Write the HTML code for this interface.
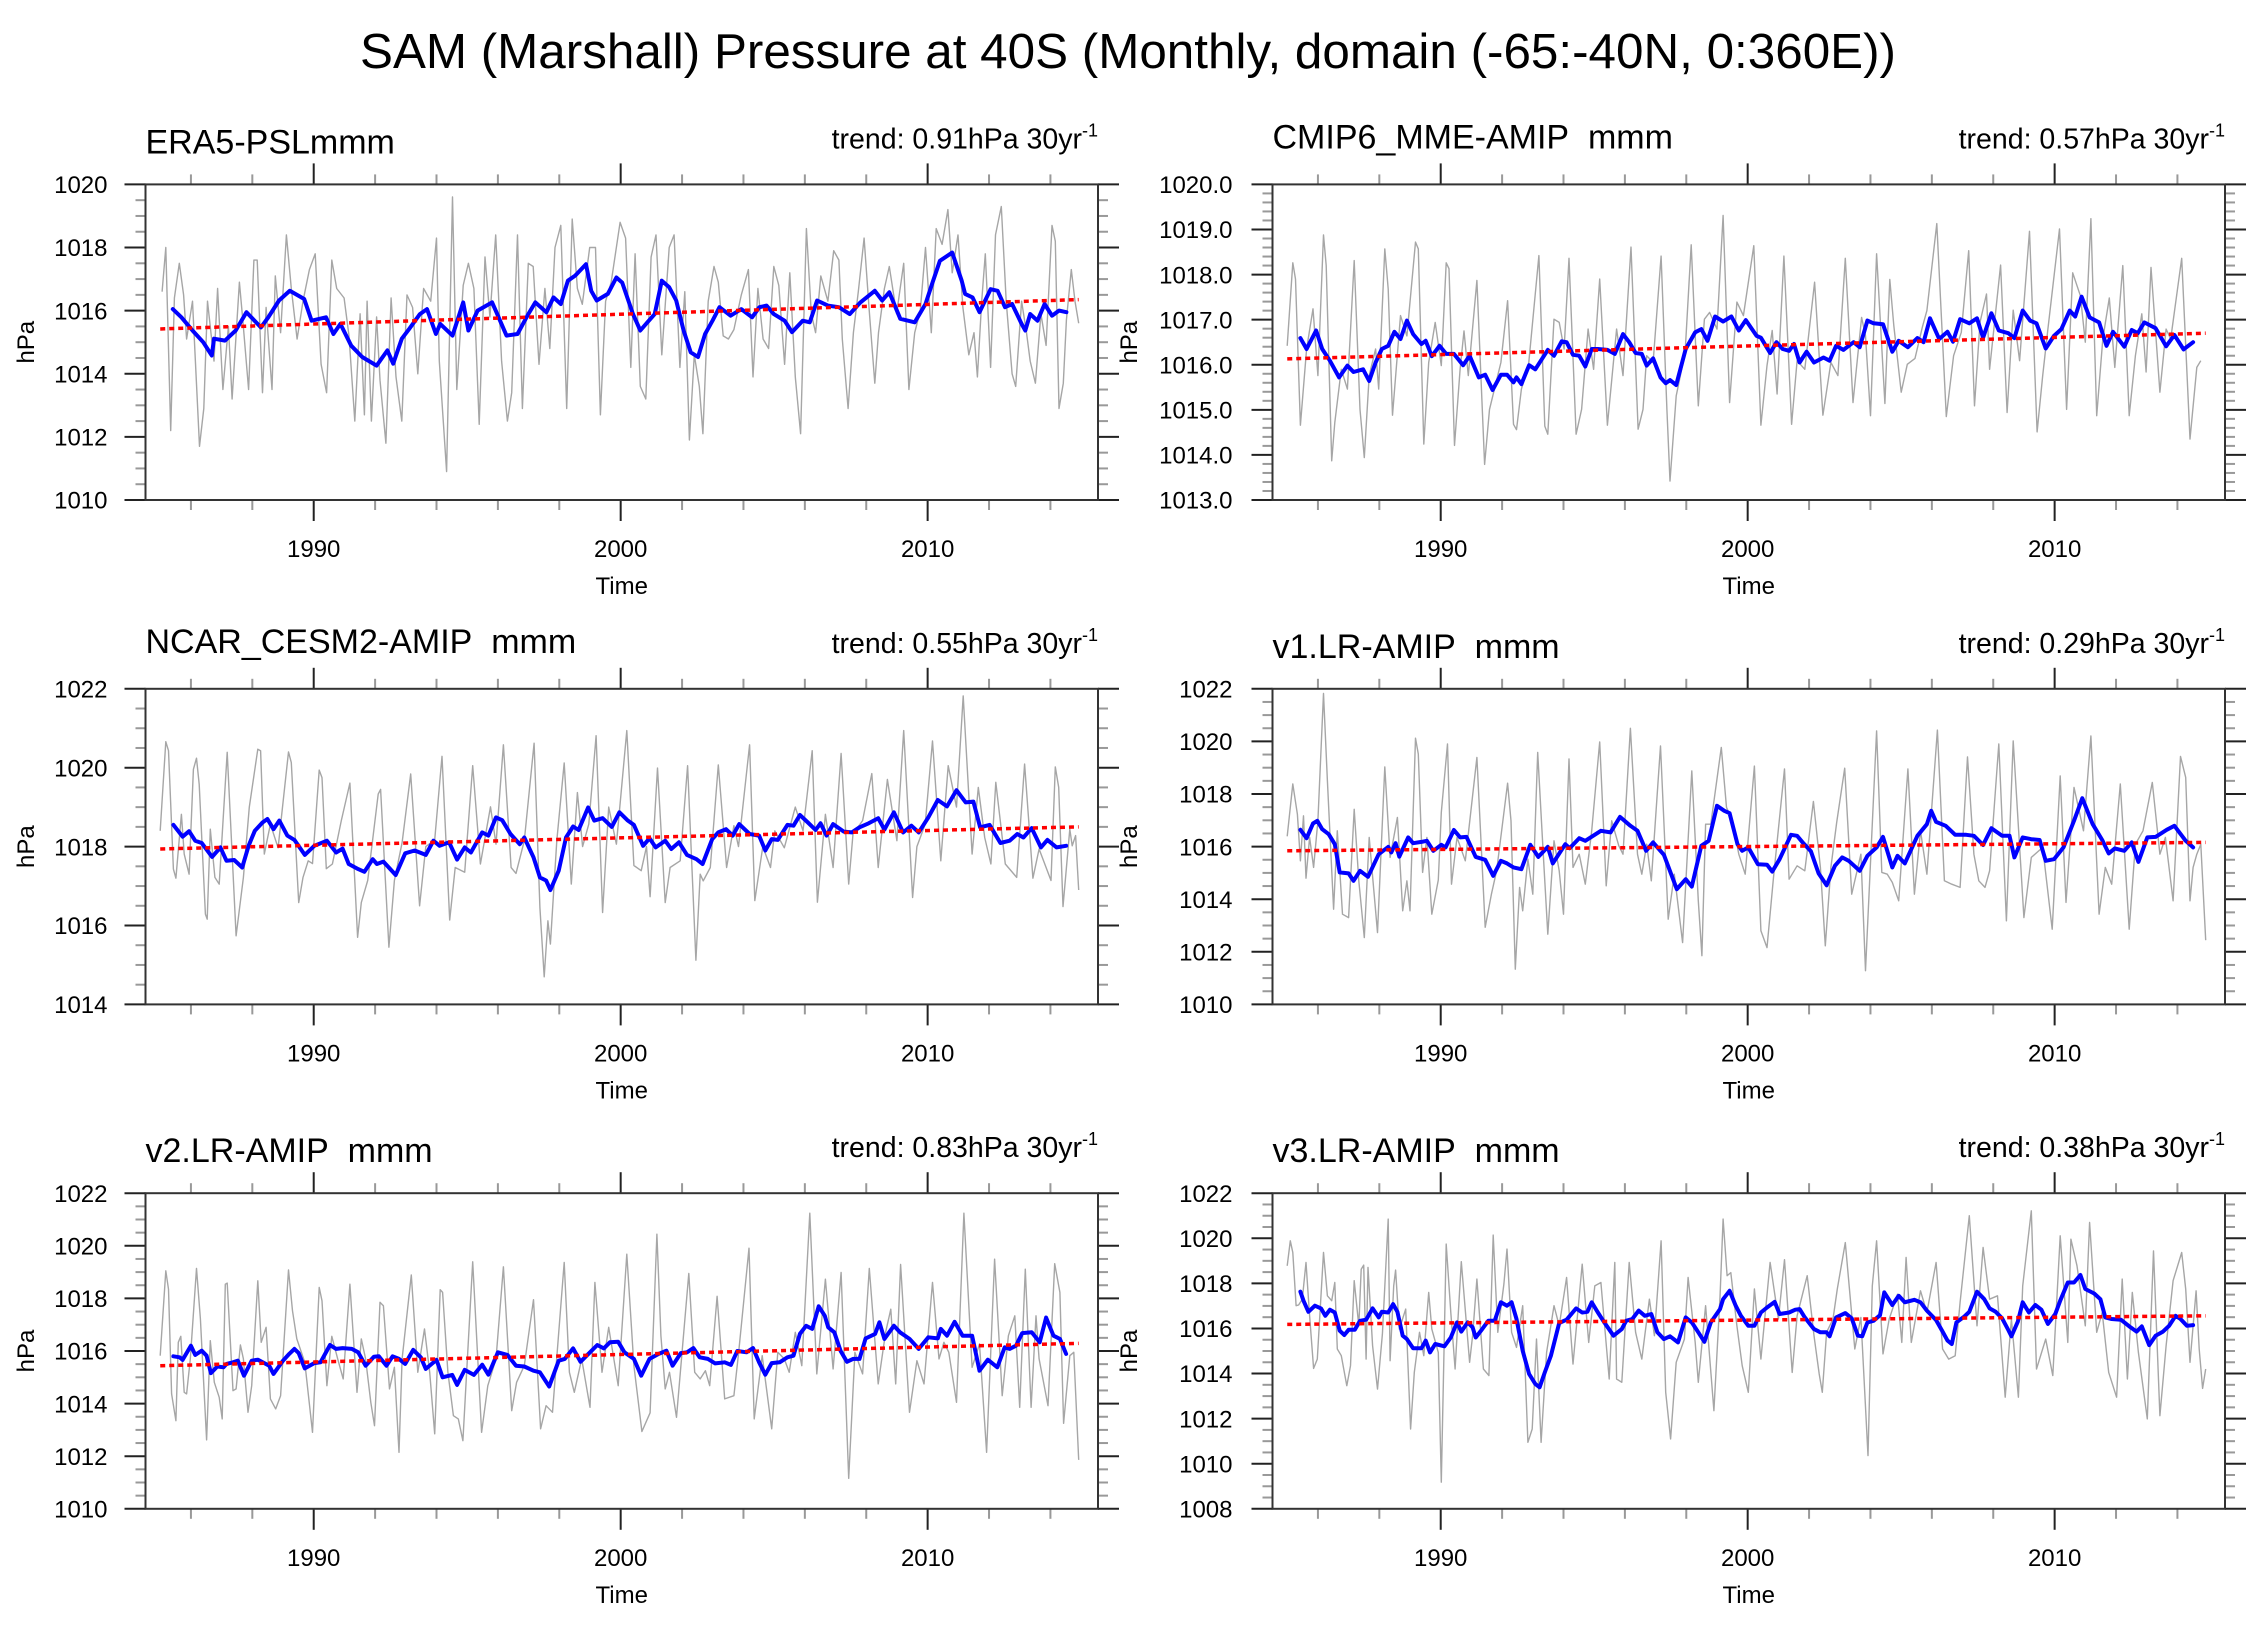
<!DOCTYPE html>
<html><head><meta charset="utf-8"><title>SAM (Marshall) Pressure at 40S</title>
<style>html,body{margin:0;padding:0;background:#fff}svg{display:block}text{font-family:"Liberation Sans",Arial,sans-serif;fill:#000}</style>
</head><body>
<svg id="chart" xmlns="http://www.w3.org/2000/svg" width="2259" height="1637" viewBox="0 0 2259 1637">
<rect x="0" y="0" width="2259" height="1637" fill="#fff"/>
<text x="1128" y="68" font-size="49" text-anchor="middle" textLength="1536" lengthAdjust="spacingAndGlyphs">SAM (Marshall) Pressure at 40S (Monthly, domain (-65:-40N, 0:360E))</text>
</svg>
<script>
// ---- data (time in decimal years, value in hPa) ----
const panelTitles = ['ERA5-PSLmmm','CMIP6_MME-AMIP\u00a0\u00a0mmm','NCAR_CESM2-AMIP\u00a0\u00a0mmm','v1.LR-AMIP\u00a0\u00a0mmm','v2.LR-AMIP\u00a0\u00a0mmm','v3.LR-AMIP\u00a0\u00a0mmm'];
const trendLabels = ['0.91','0.57','0.55','0.29','0.83','0.38'];
const yMins = [1010,1013,1014,1010,1010,1008];
const yMaxs = [1020,1020,1022,1022,1022,1022];
const yMajorSteps = [2,1,2,2,2,2];
const yMinorSteps = [0.5,0.2,0.5,0.5,0.5,0.5];
const yDecimals = [0,1,0,0,0,0];
const xTickYears = [1990,2000,2010];
const trendStartT = 1985.0;
const trendEndT = 2014.92;
const trendStartV = [1015.42,1016.13,1017.94,1015.84,1015.44,1016.18];
const trendEndV = [1016.35,1016.70,1018.50,1016.16,1016.29,1016.56];

const era5Blue = [[1985.41,1016.05],[1985.69,1015.79],[1986.05,1015.37],[1986.40,1015.0],[1986.68,1014.58],[1986.75,1015.11],[1987.11,1015.05],[1987.46,1015.37],[1987.81,1015.95],[1988.28,1015.47],[1988.52,1015.79],[1988.87,1016.32],[1989.22,1016.63],[1989.69,1016.37],[1989.93,1015.68],[1990.40,1015.79],[1990.64,1015.26],[1990.87,1015.58],[1991.22,1014.89],[1991.58,1014.53],[1992.05,1014.26],[1992.40,1014.74],[1992.59,1014.32],[1992.87,1015.11],[1993.11,1015.42],[1993.46,1015.89],[1993.69,1016.05],[1993.98,1015.26],[1994.12,1015.58],[1994.52,1015.21],[1994.87,1016.26],[1995.04,1015.37],[1995.34,1016.0],[1995.81,1016.26],[1995.93,1016.0],[1996.28,1015.21],[1996.64,1015.26],[1996.99,1015.89],[1997.22,1016.26],[1997.58,1015.95],[1997.81,1016.42],[1998.05,1016.21],[1998.28,1016.95],[1998.52,1017.11],[1998.87,1017.47],[1999.04,1016.63],[1999.22,1016.32],[1999.58,1016.53],[1999.86,1017.05],[2000.05,1016.89],[2000.40,1015.89],[2000.64,1015.37],[2000.87,1015.63],[2001.11,1015.89],[2001.34,1016.95],[2001.58,1016.74],[2001.81,1016.32],[2002.05,1015.37],[2002.28,1014.68],[2002.52,1014.53],[2002.75,1015.26],[2002.99,1015.68],[2003.22,1016.11],[2003.58,1015.84],[2003.93,1016.05],[2004.28,1015.79],[2004.52,1016.11],[2004.75,1016.16],[2004.99,1015.89],[2005.34,1015.68],[2005.58,1015.32],[2005.93,1015.68],[2006.16,1015.63],[2006.40,1016.32],[2006.75,1016.16],[2007.11,1016.11],[2007.46,1015.89],[2007.81,1016.26],[2008.28,1016.63],[2008.52,1016.32],[2008.75,1016.58],[2009.11,1015.74],[2009.58,1015.63],[2009.93,1016.21],[2010.16,1016.89],[2010.40,1017.58],[2010.80,1017.84],[2011.11,1016.95],[2011.22,1016.53],[2011.46,1016.42],[2011.69,1015.95],[2012.05,1016.68],[2012.28,1016.63],[2012.52,1016.11],[2012.75,1016.21],[2013.06,1015.58],[2013.18,1015.37],[2013.34,1015.89],[2013.58,1015.68],[2013.81,1016.21],[2014.05,1015.84],[2014.28,1016.0],[2014.52,1015.95]];
const era5Gray = [[1985.06,1016.6],[1985.18,1018.0],[1985.34,1012.2],[1985.46,1016.4],[1985.62,1017.5],[1985.76,1016.5],[1985.86,1015.1],[1986.05,1016.3],[1986.28,1011.7],[1986.42,1012.9],[1986.54,1016.3],[1986.75,1014.4],[1986.87,1016.7],[1987.04,1013.5],[1987.22,1015.5],[1987.34,1013.2],[1987.58,1016.9],[1987.69,1015.7],[1987.88,1013.5],[1988.05,1017.6],[1988.16,1017.6],[1988.33,1013.4],[1988.45,1016.1],[1988.64,1013.5],[1988.75,1017.1],[1988.92,1015.3],[1989.11,1018.4],[1989.27,1016.7],[1989.46,1015.1],[1989.65,1016.3],[1989.86,1017.3],[1990.05,1017.8],[1990.24,1014.3],[1990.42,1013.4],[1990.59,1017.6],[1990.75,1016.7],[1990.99,1016.4],[1991.15,1015.2],[1991.34,1012.5],[1991.51,1015.9],[1991.65,1012.7],[1991.74,1016.3],[1991.88,1012.5],[1992.05,1015.8],[1992.16,1013.8],[1992.35,1011.8],[1992.52,1016.4],[1992.68,1013.9],[1992.87,1012.5],[1993.04,1016.5],[1993.22,1016.1],[1993.39,1014.0],[1993.58,1016.7],[1993.81,1016.3],[1994.0,1018.3],[1994.09,1014.4],[1994.33,1010.9],[1994.52,1019.6],[1994.66,1013.5],[1994.87,1016.8],[1995.04,1017.5],[1995.22,1016.7],[1995.39,1012.4],[1995.58,1017.7],[1995.74,1015.8],[1995.93,1018.4],[1996.12,1014.4],[1996.31,1012.5],[1996.45,1013.4],[1996.64,1018.4],[1996.80,1012.9],[1996.99,1017.5],[1997.15,1017.4],[1997.34,1014.3],[1997.53,1016.7],[1997.69,1014.8],[1997.86,1018.0],[1998.05,1018.7],[1998.24,1012.9],[1998.42,1018.9],[1998.59,1016.7],[1998.75,1016.2],[1998.99,1018.0],[1999.18,1018.0],[1999.34,1012.7],[1999.51,1016.3],[1999.69,1016.9],[1999.98,1018.8],[2000.16,1018.3],[2000.33,1014.2],[2000.47,1017.8],[2000.64,1013.6],[2000.82,1013.2],[2000.99,1017.7],[2001.15,1018.4],[2001.34,1014.6],[2001.58,1018.0],[2001.74,1018.4],[2001.93,1014.2],[2002.09,1016.6],[2002.24,1011.9],[2002.40,1014.6],[2002.56,1013.6],[2002.68,1012.1],[2002.85,1016.3],[2003.04,1017.4],[2003.18,1016.9],[2003.34,1015.2],[2003.51,1015.1],[2003.69,1015.4],[2003.93,1016.5],[2004.16,1017.3],[2004.31,1013.9],[2004.47,1016.7],[2004.64,1015.1],[2004.82,1014.8],[2004.99,1017.4],[2005.15,1016.8],[2005.34,1014.3],[2005.51,1017.2],[2005.69,1013.9],[2005.86,1012.1],[2006.05,1018.6],[2006.21,1015.9],[2006.35,1015.3],[2006.52,1017.1],[2006.75,1016.3],[2006.94,1017.9],[2007.11,1017.6],[2007.22,1015.1],[2007.41,1012.9],[2007.58,1015.3],[2007.74,1016.6],[2007.93,1018.3],[2008.09,1016.1],[2008.28,1013.7],[2008.40,1015.3],[2008.59,1016.7],[2008.75,1017.4],[2008.99,1015.9],[2009.22,1017.5],[2009.39,1013.5],[2009.58,1015.3],[2009.76,1016.0],[2009.93,1018.0],[2010.12,1015.3],[2010.28,1018.6],[2010.47,1018.1],[2010.66,1019.2],[2010.80,1017.2],[2010.99,1018.4],[2011.15,1016.1],[2011.34,1014.6],[2011.51,1015.3],[2011.62,1013.9],[2011.76,1016.3],[2011.88,1017.8],[2012.05,1014.2],[2012.21,1018.4],[2012.40,1019.3],[2012.56,1016.3],[2012.75,1014.0],[2012.87,1013.6],[2013.06,1016.3],[2013.22,1015.3],[2013.34,1014.4],[2013.51,1013.7],[2013.69,1015.9],[2013.86,1014.9],[2014.05,1018.7],[2014.16,1018.2],[2014.28,1012.9],[2014.42,1013.7],[2014.52,1015.7],[2014.68,1017.3],[2014.80,1016.3],[2014.92,1015.6]];

const cmip6Blue = [[1985.43,1016.59],[1985.63,1016.35],[1985.94,1016.76],[1986.14,1016.35],[1986.39,1016.09],[1986.69,1015.72],[1986.96,1015.98],[1987.16,1015.84],[1987.47,1015.9],[1987.67,1015.64],[1987.88,1016.05],[1988.08,1016.35],[1988.29,1016.42],[1988.49,1016.73],[1988.69,1016.57],[1988.90,1016.98],[1989.10,1016.68],[1989.37,1016.46],[1989.51,1016.53],[1989.71,1016.19],[1989.96,1016.42],[1990.18,1016.24],[1990.43,1016.24],[1990.73,1015.99],[1990.94,1016.2],[1991.24,1015.72],[1991.45,1015.78],[1991.69,1015.44],[1991.96,1015.78],[1992.16,1015.78],[1992.37,1015.61],[1992.47,1015.72],[1992.63,1015.57],[1992.88,1015.99],[1993.08,1015.9],[1993.49,1016.33],[1993.69,1016.2],[1993.94,1016.52],[1994.10,1016.5],[1994.31,1016.22],[1994.51,1016.2],[1994.71,1015.96],[1994.92,1016.35],[1995.12,1016.35],[1995.43,1016.33],[1995.67,1016.24],[1995.94,1016.68],[1996.14,1016.5],[1996.35,1016.26],[1996.55,1016.24],[1996.71,1015.98],[1996.92,1016.14],[1997.16,1015.72],[1997.33,1015.59],[1997.47,1015.66],[1997.67,1015.55],[1997.98,1016.35],[1998.29,1016.72],[1998.49,1016.79],[1998.69,1016.53],[1998.94,1017.07],[1999.20,1016.96],[1999.47,1017.07],[1999.71,1016.76],[1999.94,1016.99],[2000.29,1016.64],[2000.43,1016.6],[2000.73,1016.26],[2000.94,1016.5],[2001.14,1016.35],[2001.35,1016.31],[2001.51,1016.46],[2001.69,1016.05],[2001.92,1016.29],[2002.16,1016.05],[2002.47,1016.16],[2002.67,1016.09],[2002.88,1016.42],[2003.12,1016.33],[2003.45,1016.5],[2003.65,1016.39],[2003.90,1016.98],[2004.10,1016.92],[2004.41,1016.9],[2004.71,1016.29],[2004.92,1016.53],[2005.22,1016.39],[2005.53,1016.59],[2005.73,1016.5],[2005.94,1017.03],[2006.24,1016.57],[2006.51,1016.73],[2006.69,1016.51],[2006.92,1017.01],[2007.22,1016.92],[2007.47,1017.03],[2007.67,1016.6],[2007.94,1017.14],[2008.18,1016.76],[2008.49,1016.7],[2008.69,1016.59],[2008.96,1017.2],[2009.20,1016.98],[2009.41,1016.92],[2009.71,1016.36],[2009.98,1016.64],[2010.22,1016.79],[2010.49,1017.2],[2010.67,1017.07],[2010.88,1017.51],[2011.14,1017.05],[2011.45,1016.94],[2011.69,1016.42],[2011.90,1016.73],[2012.27,1016.4],[2012.51,1016.77],[2012.71,1016.7],[2012.92,1016.94],[2013.29,1016.81],[2013.63,1016.41],[2013.90,1016.66],[2014.20,1016.34],[2014.51,1016.5]];
const cmip6Gray = [[1985.0,1016.42],[1985.18,1018.26],[1985.27,1017.9],[1985.43,1014.66],[1985.63,1016.35],[1985.84,1017.24],[1986.0,1015.76],[1986.18,1018.88],[1986.27,1018.2],[1986.45,1013.87],[1986.55,1014.72],[1986.76,1015.9],[1986.96,1015.46],[1987.18,1018.31],[1987.37,1015.01],[1987.51,1013.94],[1987.67,1015.76],[1987.88,1016.35],[1987.98,1015.46],[1988.18,1018.57],[1988.29,1017.68],[1988.43,1014.88],[1988.69,1017.09],[1988.90,1016.64],[1989.18,1018.72],[1989.27,1018.57],[1989.45,1014.24],[1989.61,1016.05],[1989.82,1016.94],[1990.02,1015.98],[1990.18,1018.26],[1990.27,1018.13],[1990.45,1014.21],[1990.63,1015.9],[1990.76,1016.75],[1990.9,1015.76],[1991.18,1017.87],[1991.43,1013.79],[1991.59,1015.01],[1991.96,1016.05],[1992.18,1017.42],[1992.37,1014.68],[1992.47,1014.56],[1992.63,1015.46],[1992.86,1015.98],[1993.2,1018.42],[1993.39,1014.64],[1993.49,1014.46],[1993.69,1017.01],[1993.86,1016.94],[1994.02,1016.35],[1994.18,1018.36],[1994.41,1014.46],[1994.59,1015.01],[1994.8,1016.79],[1994.98,1015.9],[1995.18,1017.9],[1995.43,1014.66],[1995.73,1016.79],[1995.94,1015.76],[1996.2,1018.61],[1996.43,1014.57],[1996.59,1015.01],[1996.71,1016.2],[1996.92,1016.05],[1997.18,1018.41],[1997.37,1015.01],[1997.47,1013.42],[1997.67,1015.31],[1997.96,1016.27],[1998.16,1018.66],[1998.39,1015.09],[1998.59,1017.01],[1998.76,1017.16],[1999.0,1016.79],[1999.2,1019.31],[1999.41,1015.16],[1999.65,1017.39],[1999.86,1017.09],[2000.2,1018.64],[2000.43,1014.66],[2000.63,1015.98],[2000.8,1016.76],[2000.96,1015.35],[2001.18,1018.41],[2001.43,1014.68],[2001.61,1016.09],[2001.86,1015.9],[2002.18,1017.83],[2002.45,1014.88],[2002.71,1016.05],[2002.94,1015.76],[2003.18,1018.36],[2003.43,1015.16],[2003.71,1017.05],[2003.84,1016.64],[2004.0,1014.87],[2004.2,1018.46],[2004.47,1015.14],[2004.63,1017.89],[2004.76,1016.87],[2005.0,1015.39],[2005.2,1016.01],[2005.45,1016.14],[2005.69,1016.83],[2005.84,1017.2],[2006.16,1019.13],[2006.47,1014.85],[2006.71,1016.2],[2006.96,1016.72],[2007.2,1018.53],[2007.39,1015.09],[2007.57,1016.94],[2007.78,1017.57],[2007.88,1015.9],[2008.24,1018.21],[2008.45,1014.94],[2008.65,1017.21],[2008.86,1016.09],[2009.18,1018.96],[2009.43,1014.51],[2009.61,1015.76],[2009.78,1016.79],[2010.16,1019.01],[2010.39,1015.01],[2010.59,1018.04],[2010.84,1017.53],[2011.0,1016.5],[2011.18,1019.24],[2011.37,1014.87],[2011.57,1016.57],[2011.78,1017.48],[2011.96,1015.94],[2012.22,1018.2],[2012.43,1014.87],[2012.63,1016.2],[2012.84,1017.13],[2012.98,1015.84],[2013.14,1018.16],[2013.43,1015.39],[2013.63,1016.79],[2013.78,1016.57],[2014.14,1018.36],[2014.41,1014.35],[2014.63,1015.94],[2014.76,1016.09]];

const cesm2Blue = [[1985.43,1018.55],[1985.73,1018.25],[1985.94,1018.39],[1986.14,1018.15],[1986.35,1018.09],[1986.69,1017.74],[1986.96,1017.98],[1987.16,1017.64],[1987.41,1017.66],[1987.67,1017.47],[1987.88,1018.02],[1988.08,1018.4],[1988.33,1018.61],[1988.49,1018.7],[1988.69,1018.44],[1988.88,1018.66],[1989.14,1018.28],[1989.37,1018.17],[1989.71,1017.79],[1990.02,1018.02],[1990.43,1018.15],[1990.73,1017.85],[1990.94,1017.95],[1991.14,1017.56],[1991.45,1017.43],[1991.65,1017.36],[1991.92,1017.68],[1992.06,1017.56],[1992.27,1017.62],[1992.67,1017.28],[1992.98,1017.83],[1993.29,1017.9],[1993.65,1017.79],[1993.90,1018.15],[1994.10,1018.02],[1994.41,1018.11],[1994.67,1017.67],[1994.92,1017.98],[1995.12,1017.85],[1995.49,1018.36],[1995.69,1018.28],[1995.94,1018.74],[1996.14,1018.67],[1996.41,1018.32],[1996.71,1018.06],[1996.86,1018.23],[1997.16,1017.73],[1997.37,1017.22],[1997.57,1017.14],[1997.71,1016.9],[1997.98,1017.39],[1998.22,1018.23],[1998.45,1018.51],[1998.63,1018.42],[1998.94,1018.99],[1999.14,1018.66],[1999.41,1018.72],[1999.71,1018.5],[1999.96,1018.87],[2000.22,1018.67],[2000.43,1018.55],[2000.73,1018.02],[2000.94,1018.21],[2001.14,1017.98],[2001.45,1018.15],[2001.65,1017.94],[2001.90,1018.11],[2002.16,1017.79],[2002.47,1017.68],[2002.67,1017.56],[2002.98,1018.19],[2003.18,1018.36],[2003.43,1018.44],[2003.65,1018.28],[2003.86,1018.57],[2004.20,1018.32],[2004.51,1018.28],[2004.71,1017.9],[2004.92,1018.19],[2005.12,1018.17],[2005.43,1018.55],[2005.63,1018.53],[2005.84,1018.8],[2006.10,1018.61],[2006.35,1018.42],[2006.51,1018.59],[2006.71,1018.28],[2006.92,1018.57],[2007.27,1018.38],[2007.53,1018.36],[2007.78,1018.49],[2008.08,1018.59],[2008.39,1018.72],[2008.59,1018.43],[2008.90,1018.87],[2009.20,1018.36],[2009.47,1018.53],[2009.71,1018.36],[2010.02,1018.74],[2010.33,1019.18],[2010.63,1019.02],[2010.94,1019.43],[2011.24,1019.12],[2011.49,1019.14],[2011.71,1018.49],[2012.02,1018.55],[2012.37,1018.09],[2012.67,1018.15],[2012.92,1018.32],[2013.12,1018.23],[2013.39,1018.47],[2013.69,1017.98],[2013.90,1018.17],[2014.20,1017.98],[2014.51,1018.02]];
const cesm2Gray = [[1985.0,1018.4],[1985.18,1020.66],[1985.27,1020.43],[1985.43,1017.43],[1985.51,1017.2],[1985.69,1018.82],[1985.78,1017.81],[1985.94,1017.3],[1986.08,1019.96],[1986.18,1020.24],[1986.27,1019.58],[1986.47,1016.29],[1986.53,1016.16],[1986.63,1018.44],[1986.78,1017.22],[1986.92,1017.05],[1987.18,1020.39],[1987.33,1017.98],[1987.47,1015.74],[1987.71,1017.22],[1987.90,1019.0],[1988.18,1020.47],[1988.27,1020.43],[1988.39,1017.81],[1988.59,1018.57],[1988.84,1017.97],[1989.18,1020.4],[1989.27,1020.13],[1989.51,1016.58],[1989.65,1017.22],[1989.82,1017.64],[1989.96,1017.57],[1990.18,1019.94],[1990.27,1019.75],[1990.41,1017.44],[1990.61,1017.56],[1990.90,1018.66],[1991.18,1019.61],[1991.43,1015.7],[1991.55,1016.58],[1991.76,1017.14],[1992.10,1019.33],[1992.18,1019.45],[1992.45,1015.45],[1992.63,1017.14],[1992.88,1018.1],[1993.16,1019.84],[1993.45,1016.5],[1993.65,1018.0],[1993.94,1018.17],[1994.18,1020.29],[1994.43,1016.14],[1994.61,1017.47],[1994.92,1017.35],[1995.18,1020.05],[1995.43,1017.56],[1995.76,1019.01],[1995.94,1018.06],[1996.18,1020.58],[1996.43,1017.47],[1996.59,1017.32],[1996.86,1018.15],[1997.18,1020.62],[1997.37,1016.46],[1997.51,1014.7],[1997.63,1016.12],[1997.71,1015.53],[1997.92,1018.15],[1998.16,1020.12],[1998.39,1017.05],[1998.59,1019.37],[1998.76,1018.0],[1998.96,1018.57],[1999.20,1020.81],[1999.41,1016.33],[1999.61,1019.0],[1999.86,1018.06],[2000.20,1020.94],[2000.43,1017.52],[2000.67,1017.39],[2000.84,1018.0],[2000.96,1016.73],[2001.20,1019.99],[2001.45,1016.58],[2001.61,1017.47],[2001.94,1017.64],[2002.18,1020.05],[2002.45,1015.12],[2002.59,1017.3],[2002.69,1017.13],[2002.92,1017.47],[2003.18,1020.07],[2003.45,1017.47],[2003.69,1018.53],[2003.84,1018.0],[2004.20,1020.58],[2004.37,1016.63],[2004.63,1018.0],[2004.88,1017.47],[2005.02,1018.4],[2005.33,1017.97],[2005.69,1019.0],[2005.94,1018.4],[2006.24,1020.43],[2006.41,1016.59],[2006.67,1018.82],[2006.92,1017.47],[2007.18,1020.36],[2007.43,1017.05],[2007.57,1018.32],[2007.88,1018.66],[2008.18,1019.85],[2008.39,1017.47],[2008.69,1019.7],[2009.0,1018.15],[2009.22,1020.94],[2009.51,1016.71],[2009.65,1018.0],[2009.92,1018.57],[2010.16,1020.68],[2010.43,1017.64],[2010.67,1020.05],[2010.94,1019.0],[2011.16,1021.82],[2011.45,1017.81],[2011.65,1019.5],[2011.86,1018.23],[2012.06,1017.56],[2012.22,1019.63],[2012.53,1017.56],[2012.90,1017.22],[2013.16,1020.09],[2013.43,1017.2],[2013.63,1017.94],[2014.02,1017.14],[2014.16,1020.02],[2014.27,1019.5],[2014.41,1016.48],[2014.63,1018.44],[2014.71,1018.02],[2014.82,1018.28],[2014.92,1016.9]];

const v1Blue = [[1985.43,1016.64],[1985.63,1016.32],[1985.84,1016.88],[1985.98,1016.98],[1986.14,1016.66],[1986.35,1016.47],[1986.55,1016.09],[1986.71,1015.02],[1987.0,1014.98],[1987.16,1014.7],[1987.37,1015.08],[1987.63,1014.85],[1987.98,1015.71],[1988.29,1015.99],[1988.39,1015.78],[1988.53,1016.13],[1988.65,1015.62],[1988.94,1016.35],[1989.10,1016.13],[1989.37,1016.18],[1989.55,1016.22],[1989.76,1015.84],[1990.02,1016.07],[1990.16,1015.97],[1990.43,1016.63],[1990.63,1016.35],[1990.84,1016.37],[1991.14,1015.61],[1991.45,1015.5],[1991.71,1014.89],[1991.96,1015.46],[1992.16,1015.36],[1992.37,1015.21],[1992.63,1015.14],[1992.92,1016.07],[1993.18,1015.61],[1993.49,1015.99],[1993.65,1015.36],[1994.06,1016.09],[1994.20,1015.94],[1994.51,1016.32],[1994.71,1016.22],[1995.22,1016.6],[1995.53,1016.54],[1995.84,1017.13],[1996.18,1016.79],[1996.41,1016.6],[1996.69,1015.84],[1996.92,1016.16],[1997.27,1015.69],[1997.69,1014.38],[1997.98,1014.76],[1998.18,1014.48],[1998.49,1016.03],[1998.73,1016.22],[1999.0,1017.55],[1999.24,1017.36],[1999.41,1017.27],[1999.67,1016.09],[1999.82,1015.84],[2000.02,1015.97],[2000.33,1015.33],[2000.63,1015.31],[2000.80,1015.05],[2001.04,1015.52],[2001.41,1016.45],[2001.61,1016.41],[2001.82,1016.12],[2002.06,1015.82],[2002.31,1014.98],[2002.57,1014.53],[2002.84,1015.27],[2003.08,1015.59],[2003.29,1015.46],[2003.65,1015.08],[2003.90,1015.65],[2004.20,1015.97],[2004.41,1016.37],[2004.71,1015.21],[2004.88,1015.65],[2005.12,1015.36],[2005.53,1016.41],[2005.84,1016.85],[2005.98,1017.36],[2006.14,1016.94],[2006.45,1016.79],[2006.76,1016.45],[2007.12,1016.45],[2007.37,1016.41],[2007.67,1016.06],[2007.94,1016.7],[2008.29,1016.41],[2008.53,1016.41],[2008.69,1015.59],[2008.96,1016.35],[2009.24,1016.28],[2009.51,1016.25],[2009.71,1015.46],[2009.98,1015.52],[2010.29,1015.97],[2010.63,1016.98],[2010.90,1017.84],[2011.24,1016.85],[2011.55,1016.25],[2011.76,1015.74],[2011.96,1015.93],[2012.27,1015.84],[2012.51,1016.16],[2012.73,1015.42],[2013.02,1016.35],[2013.29,1016.37],[2013.65,1016.64],[2013.90,1016.79],[2014.27,1016.22],[2014.51,1015.97]];
const v1Gray = [[1985.0,1016.39],[1985.18,1018.38],[1985.33,1017.23],[1985.43,1015.46],[1985.53,1017.17],[1985.61,1014.8],[1985.73,1016.35],[1985.86,1015.21],[1986.0,1016.98],[1986.18,1021.82],[1986.31,1018.5],[1986.51,1013.62],[1986.63,1016.6],[1986.80,1013.43],[1987.0,1013.3],[1987.18,1017.42],[1987.33,1014.7],[1987.51,1012.54],[1987.67,1016.35],[1987.94,1012.73],[1988.18,1019.03],[1988.35,1015.59],[1988.59,1017.11],[1988.76,1013.56],[1988.90,1014.7],[1989.0,1013.56],[1989.18,1020.12],[1989.27,1019.52],[1989.41,1015.02],[1989.55,1016.35],[1989.71,1013.43],[1989.92,1014.73],[1990.02,1017.3],[1990.22,1019.9],[1990.35,1014.57],[1990.53,1016.35],[1990.80,1015.46],[1991.18,1019.39],[1991.45,1012.93],[1991.65,1014.19],[1991.82,1015.08],[1992.18,1018.41],[1992.29,1016.98],[1992.43,1011.34],[1992.57,1014.45],[1992.67,1013.56],[1992.84,1015.52],[1993.0,1014.19],[1993.16,1019.58],[1993.33,1015.97],[1993.49,1012.67],[1993.69,1016.22],[1993.86,1015.08],[1994.0,1013.43],[1994.18,1019.33],[1994.31,1015.21],[1994.51,1015.71],[1994.71,1014.57],[1994.92,1016.6],[1995.18,1019.98],[1995.39,1014.51],[1995.57,1016.98],[1995.80,1016.03],[1995.94,1015.71],[1996.18,1020.5],[1996.41,1015.71],[1996.55,1014.95],[1996.71,1016.09],[1996.86,1014.7],[1997.16,1019.83],[1997.41,1013.24],[1997.61,1014.95],[1997.88,1012.35],[1998.18,1018.88],[1998.39,1013.94],[1998.51,1011.85],[1998.63,1016.85],[1998.80,1016.85],[1999.14,1019.77],[1999.31,1017.49],[1999.51,1016.98],[1999.71,1015.71],[1999.92,1014.95],[2000.22,1019.06],[2000.43,1012.8],[2000.63,1012.16],[2000.84,1014.83],[2001.20,1018.95],[2001.35,1014.76],[2001.61,1015.27],[2001.86,1015.08],[2002.14,1017.72],[2002.37,1015.21],[2002.53,1012.23],[2002.71,1015.21],[2002.90,1016.92],[2003.16,1018.98],[2003.39,1014.19],[2003.69,1015.71],[2003.84,1011.28],[2004.20,1020.4],[2004.37,1015.02],[2004.55,1014.95],[2004.71,1014.64],[2004.92,1013.94],[2005.22,1018.95],[2005.43,1014.19],[2005.63,1016.6],[2005.84,1014.95],[2006.18,1020.43],[2006.41,1014.7],[2006.65,1014.57],[2006.92,1014.45],[2007.16,1019.41],[2007.37,1015.71],[2007.53,1014.7],[2007.73,1014.45],[2007.88,1015.08],[2008.18,1019.9],[2008.43,1013.18],[2008.65,1020.02],[2009.0,1013.3],[2009.24,1015.59],[2009.61,1015.97],[2009.92,1012.86],[2010.18,1018.69],[2010.37,1013.88],[2010.63,1018.25],[2010.94,1016.6],[2011.18,1020.21],[2011.45,1013.43],[2011.65,1015.21],[2011.86,1014.57],[2012.14,1018.38],[2012.43,1012.86],[2012.63,1016.09],[2012.88,1016.6],[2013.18,1018.44],[2013.43,1015.71],[2013.61,1016.35],[2013.86,1013.94],[2014.10,1019.43],[2014.27,1018.63],[2014.41,1013.94],[2014.51,1015.21],[2014.63,1015.71],[2014.76,1016.09],[2014.92,1012.44]];

const v2Blue = [[1985.43,1015.8],[1985.63,1015.76],[1985.73,1015.66],[1986.0,1016.2],[1986.14,1015.85],[1986.35,1016.01],[1986.51,1015.82],[1986.65,1015.16],[1986.86,1015.41],[1987.06,1015.38],[1987.16,1015.51],[1987.37,1015.57],[1987.53,1015.63],[1987.73,1015.06],[1987.98,1015.63],[1988.18,1015.67],[1988.39,1015.54],[1988.55,1015.44],[1988.69,1015.13],[1989.0,1015.63],[1989.20,1015.89],[1989.37,1016.08],[1989.51,1015.92],[1989.71,1015.34],[1990.02,1015.54],[1990.22,1015.57],[1990.53,1016.23],[1990.73,1016.08],[1990.94,1016.11],[1991.24,1016.08],[1991.45,1015.95],[1991.69,1015.44],[1991.96,1015.78],[1992.12,1015.8],[1992.37,1015.44],[1992.57,1015.8],[1992.78,1015.7],[1992.98,1015.51],[1993.24,1016.04],[1993.49,1015.76],[1993.65,1015.32],[1994.0,1015.66],[1994.20,1015.0],[1994.51,1015.09],[1994.67,1014.71],[1994.92,1015.28],[1995.22,1015.09],[1995.49,1015.48],[1995.69,1015.1],[1996.0,1015.95],[1996.31,1015.85],[1996.59,1015.44],[1996.86,1015.41],[1997.16,1015.25],[1997.37,1015.19],[1997.67,1014.65],[1997.98,1015.63],[1998.18,1015.7],[1998.45,1016.1],[1998.69,1015.59],[1999.0,1015.95],[1999.24,1016.23],[1999.45,1016.1],[1999.65,1016.33],[1999.92,1016.35],[2000.12,1015.95],[2000.43,1015.7],[2000.67,1015.06],[2000.94,1015.7],[2001.24,1015.89],[2001.49,1016.01],[2001.69,1015.44],[2001.96,1015.92],[2002.16,1015.95],[2002.37,1016.11],[2002.57,1015.76],[2002.84,1015.7],[2003.08,1015.53],[2003.39,1015.57],[2003.59,1015.47],[2003.80,1016.0],[2004.10,1015.95],[2004.31,1016.11],[2004.51,1015.57],[2004.71,1015.1],[2004.92,1015.54],[2005.18,1015.57],[2005.43,1015.76],[2005.63,1015.82],[2005.84,1016.65],[2006.04,1016.96],[2006.24,1016.84],[2006.45,1017.7],[2006.65,1017.34],[2006.76,1016.9],[2006.96,1016.71],[2007.16,1016.01],[2007.37,1015.59],[2007.57,1015.7],[2007.78,1015.7],[2007.98,1016.48],[2008.29,1016.65],[2008.43,1017.09],[2008.59,1016.46],[2008.90,1016.96],[2009.10,1016.71],[2009.41,1016.46],[2009.71,1016.08],[2010.02,1016.52],[2010.33,1016.48],[2010.43,1016.84],[2010.63,1016.58],[2010.88,1017.11],[2011.14,1016.58],[2011.45,1016.58],[2011.69,1015.25],[2011.96,1015.67],[2012.27,1015.38],[2012.51,1016.14],[2012.67,1016.08],[2012.88,1016.2],[2013.08,1016.68],[2013.39,1016.71],[2013.65,1016.33],[2013.86,1017.27],[2014.10,1016.58],[2014.31,1016.46],[2014.51,1015.89]];
const v2Gray = [[1985.0,1015.82],[1985.18,1019.05],[1985.27,1018.35],[1985.37,1014.37],[1985.51,1013.35],[1985.59,1016.33],[1985.67,1016.56],[1985.78,1014.43],[1985.86,1014.37],[1985.98,1015.7],[1986.18,1019.14],[1986.31,1017.22],[1986.51,1012.62],[1986.63,1016.39],[1986.76,1014.81],[1986.92,1014.24],[1987.02,1013.42],[1987.12,1018.54],[1987.18,1018.58],[1987.37,1014.49],[1987.47,1014.56],[1987.61,1016.23],[1987.71,1015.7],[1987.86,1013.67],[1987.98,1014.68],[1988.18,1018.67],[1988.29,1016.33],[1988.45,1016.9],[1988.59,1014.18],[1988.76,1013.8],[1988.92,1014.3],[1989.18,1019.08],[1989.31,1017.53],[1989.45,1016.46],[1989.71,1015.57],[1989.96,1012.91],[1990.18,1018.42],[1990.27,1017.91],[1990.43,1014.68],[1990.59,1016.56],[1990.78,1015.7],[1990.96,1014.94],[1991.18,1018.54],[1991.41,1014.43],[1991.55,1016.46],[1991.69,1015.7],[1991.86,1014.05],[1991.98,1013.16],[1992.16,1017.85],[1992.27,1017.72],[1992.47,1014.56],[1992.63,1015.38],[1992.78,1012.15],[1992.88,1015.7],[1993.18,1018.89],[1993.39,1015.19],[1993.61,1016.84],[1993.78,1015.19],[1993.94,1012.85],[1994.12,1018.33],[1994.20,1018.23],[1994.37,1015.19],[1994.55,1013.54],[1994.71,1013.42],[1994.86,1012.59],[1995.18,1019.39],[1995.47,1012.91],[1995.67,1014.68],[1995.94,1015.7],[1996.18,1019.2],[1996.45,1013.73],[1996.61,1014.81],[1996.86,1015.44],[1997.16,1017.95],[1997.39,1013.04],[1997.57,1013.92],[1997.78,1013.67],[1998.16,1019.37],[1998.33,1015.19],[1998.49,1014.43],[1998.73,1015.7],[1999.0,1013.86],[1999.16,1018.61],[1999.39,1015.19],[1999.61,1016.9],[1999.92,1014.68],[2000.20,1019.68],[2000.43,1015.44],[2000.69,1012.94],[2000.96,1013.65],[2001.18,1020.44],[2001.31,1016.58],[2001.45,1014.56],[2001.59,1015.19],[2001.82,1013.48],[2002.22,1018.95],[2002.41,1015.19],[2002.59,1014.94],[2002.76,1015.25],[2002.90,1014.68],[2003.14,1018.08],[2003.39,1014.18],[2003.69,1014.3],[2003.84,1015.89],[2004.18,1019.91],[2004.35,1013.42],[2004.61,1015.82],[2004.92,1013.04],[2005.12,1015.95],[2005.33,1015.7],[2005.49,1015.19],[2005.69,1016.71],[2005.90,1015.44],[2006.16,1021.24],[2006.39,1015.13],[2006.67,1018.73],[2006.92,1015.32],[2007.18,1018.99],[2007.43,1011.16],[2007.63,1015.95],[2007.88,1015.13],[2008.10,1019.14],[2008.39,1014.75],[2008.63,1016.71],[2008.80,1017.59],[2008.96,1014.75],[2009.12,1019.29],[2009.41,1013.67],[2009.65,1015.63],[2009.88,1014.75],[2010.16,1018.61],[2010.37,1015.7],[2010.53,1016.33],[2010.69,1015.95],[2010.94,1014.05],[2011.18,1021.24],[2011.45,1015.38],[2011.69,1016.27],[2011.92,1012.15],[2012.18,1019.49],[2012.43,1014.3],[2012.63,1016.58],[2012.84,1017.34],[2013.0,1013.86],[2013.18,1019.11],[2013.37,1013.86],[2013.53,1017.34],[2013.63,1015.7],[2013.92,1013.92],[2014.14,1019.32],[2014.31,1018.23],[2014.43,1013.25],[2014.63,1015.82],[2014.76,1015.95],[2014.92,1011.86]];

const v3Blue = [[1985.43,1017.63],[1985.53,1017.23],[1985.69,1016.74],[1985.90,1017.01],[1986.10,1016.89],[1986.24,1016.56],[1986.39,1016.83],[1986.55,1016.71],[1986.71,1015.9],[1986.86,1015.71],[1987.0,1015.94],[1987.20,1015.94],[1987.37,1016.34],[1987.57,1016.39],[1987.78,1016.89],[1987.98,1016.49],[1988.08,1016.74],[1988.29,1016.71],[1988.45,1017.08],[1988.59,1016.74],[1988.76,1015.68],[1988.90,1015.53],[1989.10,1015.12],[1989.37,1015.12],[1989.51,1015.46],[1989.65,1014.94],[1989.82,1015.31],[1990.12,1015.21],[1990.33,1015.6],[1990.53,1016.27],[1990.67,1015.86],[1990.88,1016.27],[1991.04,1016.05],[1991.14,1015.6],[1991.35,1015.97],[1991.55,1016.34],[1991.76,1016.34],[1991.96,1017.16],[1992.16,1017.01],[1992.31,1017.16],[1992.47,1016.42],[1992.67,1015.01],[1992.88,1013.98],[1993.08,1013.54],[1993.22,1013.39],[1993.39,1014.05],[1993.59,1014.79],[1993.86,1016.24],[1994.10,1016.39],[1994.41,1016.89],[1994.61,1016.71],[1994.78,1016.74],[1994.92,1017.16],[1995.12,1016.71],[1995.33,1016.27],[1995.63,1015.68],[1995.90,1015.97],[1996.04,1016.34],[1996.24,1016.42],[1996.45,1016.79],[1996.65,1016.56],[1996.86,1016.64],[1997.06,1015.83],[1997.27,1015.53],[1997.47,1015.65],[1997.73,1015.38],[1997.98,1016.49],[1998.18,1016.27],[1998.39,1015.83],[1998.59,1015.41],[1998.80,1016.27],[1999.10,1016.86],[1999.20,1017.3],[1999.41,1017.67],[1999.61,1017.01],[1999.78,1016.56],[2000.02,1016.12],[2000.22,1016.12],[2000.43,1016.71],[2000.63,1016.93],[2000.88,1017.18],[2001.04,1016.64],[2001.35,1016.71],[2001.55,1016.83],[2001.69,1016.86],[2001.86,1016.49],[2002.16,1015.97],[2002.37,1015.83],[2002.57,1015.83],[2002.67,1015.65],[2002.88,1016.49],[2003.18,1016.68],[2003.39,1016.45],[2003.59,1015.68],[2003.73,1015.65],[2003.90,1016.27],[2004.10,1016.34],[2004.31,1016.59],[2004.45,1017.6],[2004.71,1017.04],[2004.92,1017.45],[2005.12,1017.16],[2005.43,1017.27],[2005.63,1017.16],[2005.84,1016.79],[2006.14,1016.37],[2006.35,1015.86],[2006.51,1015.46],[2006.65,1015.31],[2006.80,1016.27],[2007.06,1016.53],[2007.22,1016.74],[2007.47,1017.63],[2007.71,1017.3],[2007.88,1016.89],[2008.08,1016.74],[2008.29,1016.45],[2008.49,1015.93],[2008.59,1015.65],[2008.80,1016.3],[2008.96,1017.16],[2009.16,1016.71],[2009.37,1017.04],[2009.57,1016.83],[2009.78,1016.2],[2010.02,1016.64],[2010.18,1017.23],[2010.43,1018.04],[2010.63,1018.04],[2010.84,1018.37],[2011.0,1017.75],[2011.29,1017.55],[2011.49,1017.3],[2011.65,1016.49],[2011.86,1016.42],[2012.16,1016.39],[2012.47,1016.05],[2012.67,1015.86],[2012.84,1016.09],[2013.08,1015.26],[2013.29,1015.68],[2013.53,1015.86],[2013.73,1016.12],[2013.94,1016.56],[2014.10,1016.42],[2014.31,1016.12],[2014.51,1016.15]];
const v3Gray = [[1985.0,1018.78],[1985.10,1019.89],[1985.18,1019.37],[1985.29,1017.01],[1985.37,1017.04],[1985.49,1017.3],[1985.61,1018.93],[1985.73,1016.56],[1985.86,1014.23],[1985.98,1014.64],[1986.18,1019.37],[1986.31,1017.45],[1986.45,1017.23],[1986.55,1018.04],[1986.63,1015.09],[1986.76,1014.79],[1986.94,1013.46],[1987.06,1014.35],[1987.18,1018.12],[1987.33,1016.12],[1987.41,1018.63],[1987.49,1018.81],[1987.57,1014.64],[1987.63,1018.71],[1987.78,1015.23],[1987.94,1013.31],[1988.10,1015.75],[1988.29,1020.85],[1988.35,1014.57],[1988.47,1017.89],[1988.53,1018.59],[1988.65,1015.97],[1988.86,1016.86],[1989.02,1011.54],[1989.14,1014.05],[1989.31,1015.83],[1989.45,1014.79],[1989.61,1017.6],[1989.71,1015.97],[1989.92,1014.94],[1990.02,1009.18],[1990.18,1019.74],[1990.33,1016.71],[1990.47,1014.2],[1990.67,1018.96],[1990.94,1014.5],[1991.04,1015.68],[1991.18,1018.19],[1991.39,1014.2],[1991.57,1013.91],[1991.71,1020.14],[1991.86,1015.83],[1992.06,1017.97],[1992.16,1019.52],[1992.31,1015.83],[1992.47,1015.16],[1992.67,1017.01],[1992.84,1010.95],[1992.98,1011.54],[1993.12,1015.53],[1993.27,1010.95],[1993.45,1014.94],[1993.69,1017.01],[1993.86,1016.12],[1994.10,1018.26],[1994.31,1014.42],[1994.61,1018.85],[1994.82,1015.38],[1995.02,1017.89],[1995.22,1018.04],[1995.49,1013.76],[1995.67,1018.93],[1995.73,1013.76],[1995.90,1013.61],[1996.14,1018.93],[1996.35,1015.83],[1996.55,1014.64],[1996.80,1017.3],[1996.96,1015.68],[1997.18,1019.89],[1997.33,1013.17],[1997.49,1011.1],[1997.67,1014.5],[1997.94,1015.53],[1998.06,1018.26],[1998.29,1015.38],[1998.39,1013.61],[1998.63,1017.01],[1998.90,1012.35],[1999.10,1017.38],[1999.20,1020.85],[1999.33,1018.34],[1999.45,1018.48],[1999.65,1016.12],[1999.82,1014.35],[2000.02,1013.17],[2000.22,1017.75],[2000.43,1014.64],[2000.73,1018.93],[2001.0,1016.42],[2001.20,1019.05],[2001.45,1014.05],[2001.61,1016.56],[2001.94,1018.34],[2002.16,1015.68],[2002.33,1013.98],[2002.43,1013.17],[2002.57,1015.83],[2002.78,1016.42],[2002.92,1017.75],[2003.18,1019.81],[2003.49,1015.09],[2003.69,1016.49],[2003.92,1010.36],[2004.06,1017.89],[2004.20,1019.89],[2004.41,1014.87],[2004.61,1016.42],[2004.88,1017.52],[2005.02,1015.38],[2005.16,1019.15],[2005.33,1015.38],[2005.63,1017.67],[2005.84,1016.71],[2006.14,1018.93],[2006.35,1015.09],[2006.55,1014.64],[2006.76,1014.79],[2006.92,1017.16],[2007.22,1021.0],[2007.47,1016.12],[2007.67,1019.59],[2007.88,1017.3],[2008.14,1017.45],[2008.39,1012.95],[2008.59,1016.42],[2008.82,1012.95],[2008.96,1017.89],[2009.24,1021.22],[2009.41,1014.2],[2009.71,1015.53],[2009.94,1013.91],[2010.18,1020.11],[2010.43,1015.38],[2010.53,1019.96],[2010.73,1018.78],[2011.0,1016.12],[2011.14,1020.7],[2011.37,1015.83],[2011.55,1016.71],[2011.76,1014.05],[2012.02,1012.95],[2012.20,1018.19],[2012.37,1013.76],[2012.53,1017.6],[2012.73,1014.94],[2013.02,1011.99],[2013.22,1019.44],[2013.43,1012.13],[2013.63,1015.23],[2013.86,1018.12],[2014.14,1019.37],[2014.27,1017.75],[2014.41,1014.5],[2014.61,1017.67],[2014.71,1015.09],[2014.82,1013.34],[2014.92,1014.2]];

const graySeries = [era5Gray, cmip6Gray, cesm2Gray, v1Gray, v2Gray, v3Gray];
const blueSeries = [era5Blue, cmip6Blue, cesm2Blue, v1Blue, v2Blue, v3Blue];
const panelKeys = ['era5','cmip6-mme','ncar-cesm2','v1-lr','v2-lr','v3-lr'];

// ---- layout (not data) ----
const NS = 'http://www.w3.org/2000/svg';
const svg = document.getElementById('chart');
const colLeft = [145.5, 1272.5];
const rowTop = [184.4, 688.8, 1193.2];
const PW = 952.5, PH = 315.6;
const X0 = 1984.52, X1 = 2015.55;
function mk(tag, parent){ const e = document.createElementNS(NS, tag); parent.appendChild(e); return e; }
function set(e, o){ for (const k in o) e.setAttribute(k, o[k]); return e; }

for (let p = 0; p < 6; p++) {
  const L = colLeft[p % 2], T = rowTop[Math.floor(p / 2)];
  const yMin = yMins[p], yMax = yMaxs[p];
  const xs = t => L + (t - X0) / (X1 - X0) * PW;
  const ys = v => T + PH - (v - yMin) / (yMax - yMin) * PH;
  const key = panelKeys[p];

  const g = mk('g', svg);
  
  

  const nMinor = Math.round((yMax - yMin) / yMinorSteps[p]);
  const nPer = Math.round(yMajorSteps[p] / yMinorSteps[p]);
  const tk = mk('g', g);
  
  
  for (let i = 0; i <= nMinor; i++) {
    const v = yMin + i * yMinorSteps[p];
    const y = ys(v);
    const major = i % nPer === 0;
    const len = major ? 21 : 10;
    const col = major ? '#222' : '#999';
    set(mk('line', tk), {x1: L - len, x2: L, y1: y, y2: y, stroke: col, 'stroke-width': 2});
    set(mk('line', tk), {x1: L + PW, x2: L + PW + len, y1: y, y2: y, stroke: col, 'stroke-width': 2});
    if (major) {
      const lab = mk('text', g);
      set(lab, {x: L - (p % 2 ? 40 : 38), y: y + 8.7, 'font-size': 24, 'text-anchor': 'end'});
      
      
      lab.textContent = v.toFixed(yDecimals[p]);
    }
  }
  for (let yr = 1986; yr <= 2014; yr += 2) {
    const x = xs(yr);
    const major = xTickYears.indexOf(yr) >= 0;
    const len = major ? 21 : 10;
    const col = major ? '#222' : '#999';
    set(mk('line', tk), {x1: x, x2: x, y1: T - len, y2: T, stroke: col, 'stroke-width': 2});
    set(mk('line', tk), {x1: x, x2: x, y1: T + PH, y2: T + PH + len, stroke: col, 'stroke-width': 2});
  }
  for (const yr of xTickYears) {
    const lab = mk('text', g);
    set(lab, {x: xs(yr), y: T + PH + 57, 'font-size': 24, 'text-anchor': 'middle'});
    
    
    lab.textContent = yr;
  }

  const gp = mk('path', g);
  set(gp, {d: graySeries[p].map((d, i) => (i ? 'L' : 'M') + xs(d[0]).toFixed(1) + ' ' + ys(d[1]).toFixed(1)).join(''), fill: 'none', stroke: '#a6a6a6', 'stroke-width': 1.4, 'stroke-linejoin': 'round'});
  
  

  const bp = mk('path', g);
  set(bp, {d: blueSeries[p].map((d, i) => (i ? 'L' : 'M') + xs(d[0]).toFixed(1) + ' ' + ys(d[1]).toFixed(1)).join(''), fill: 'none', stroke: '#0000ff', 'stroke-width': 4, 'stroke-linejoin': 'round', 'stroke-linecap': 'round'});
  
  

  const tl = mk('line', g);
  set(tl, {x1: xs(trendStartT), y1: ys(trendStartV[p]), x2: xs(trendEndT), y2: ys(trendEndV[p]), stroke: '#ff0000', 'stroke-width': 3.5, 'stroke-dasharray': '5 4'});
  
  

  const fr = mk('rect', g);
  set(fr, {x: L, y: T, width: PW, height: PH, fill: 'none', stroke: '#333', 'stroke-width': 2});
  
  

  const hasUnderscore = panelTitles[p].indexOf('_') >= 0;
  const tt = mk('text', g);
  set(tt, {x: L, y: T - (hasUnderscore ? 36 : 31), 'font-size': 34});
  
  
  tt.textContent = panelTitles[p];

  const tr = mk('text', g);
  set(tr, {x: L + PW, y: T - 36, 'font-size': 28.5, 'text-anchor': 'end'});
  
  
  const s1 = mk('tspan', tr);
  s1.textContent = 'trend: ' + trendLabels[p] + 'hPa 30yr';
  const s2 = mk('tspan', tr);
  set(s2, {dy: -12, 'font-size': 18});
  s2.textContent = '-1';

  const yl = mk('text', g);
  const ylx = L - (p % 2 ? 143.5 : 119.5);
  set(yl, {x: ylx, y: T + PH / 2, 'font-size': 24, 'text-anchor': 'middle', transform: 'rotate(-90 ' + ylx + ' ' + (T + PH / 2) + ')', dy: 8});
  
  
  yl.textContent = 'hPa';

  const xl = mk('text', g);
  set(xl, {x: L + PW / 2, y: T + PH + 94, 'font-size': 24, 'text-anchor': 'middle'});
  
  
  xl.textContent = 'Time';
}
</script>
</body></html>
